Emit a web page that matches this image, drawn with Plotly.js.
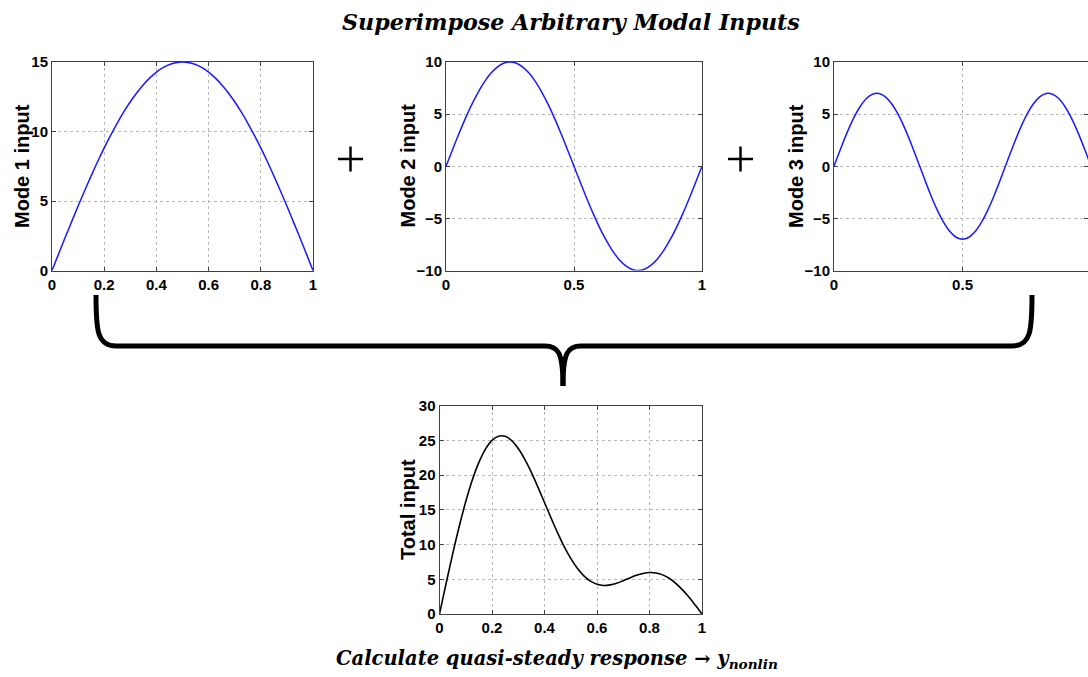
<!DOCTYPE html>
<html>
<head>
<meta charset="utf-8">
<script src="https://cdn.plot.ly/plotly-3.0.1.min.js"></script>
<style>html,body{margin:0;padding:0;background:#fff;}#chart{width:1088px;height:677px;}</style>
</head>
<body>
<div id="chart"></div>
<script>
// ---- data ----
const xPos = [0,0.025,0.05,0.075,0.1,0.125,0.15,0.175,0.2,0.225,0.25,0.275,0.3,0.325,0.35,0.375,0.4,0.425,0.45,0.475,0.5,
              0.525,0.55,0.575,0.6,0.625,0.65,0.675,0.7,0.725,0.75,0.775,0.8,0.825,0.85,0.875,0.9,0.925,0.95,0.975,1];
const mode1 = [0,1.18,2.35,3.50,4.64,5.74,6.81,7.84,8.82,9.74,10.61,11.41,12.14,12.79,13.37,13.86,14.27,14.59,14.82,14.95,15,
               14.95,14.82,14.59,14.27,13.86,13.37,12.79,12.14,11.41,10.61,9.74,8.82,7.84,6.81,5.74,4.64,3.50,2.35,1.18,0];
const mode2 = [0,1.56,3.09,4.54,5.88,7.07,8.09,8.91,9.51,9.88,10,9.88,9.51,8.91,8.09,7.07,5.88,4.54,3.09,1.56,0,
               -1.56,-3.09,-4.54,-5.88,-7.07,-8.09,-8.91,-9.51,-9.88,-10,-9.88,-9.51,-8.91,-8.09,-7.07,-5.88,-4.54,-3.09,-1.56,0];
const mode3 = [0,1.63,3.18,4.55,5.66,6.47,6.91,6.98,6.66,5.97,4.95,3.66,2.16,0.55,-1.09,-2.68,-4.11,-5.32,-6.24,-6.81,-7,
               -6.81,-6.24,-5.32,-4.11,-2.68,-1.09,0.55,2.16,3.66,4.95,5.97,6.66,6.98,6.91,6.47,5.66,4.55,3.18,1.63,0];
const total = [0,4.37,8.62,12.59,16.18,19.28,21.81,23.73,24.99,25.59,25.56,24.95,23.81,22.25,20.37,18.25,16.04,13.81,11.67,9.70,8,
               6.58,5.49,4.73,4.28,4.11,4.19,4.43,4.79,5.19,5.56,5.83,5.97,5.91,5.63,5.14,4.42,3.51,2.44,1.25,0];

const xTicksFine = [0,0.2,0.4,0.6,0.8,1];
const xTickTextFine = ["0","0.2","0.4","0.6","0.8","1"];
const xTicksCoarse = [0,0.5,1];
const xTickTextCoarse = ["0","0.5","1"];
const yTicks1 = [0,5,10,15];
const yTicksMode = [-10,-5,0,5,10];
const yTicksTotal = [0,5,10,15,20,25,30];

const yTitles = ["Mode 1 input","Mode 2 input","Mode 3 input","Total input"];
const mainTitle = "Superimpose Arbitrary Modal Inputs";
const bottomText = "Calculate quasi-steady response → y<sub>nonlin</sub>";

// ---- layout helpers ----
const W = 1088, H = 677;
const px = x => x / W;
const py = y => 1 - y / H;

const tickFont = {family: "Liberation Sans, Arial, sans-serif", size: 15, color: "#000", weight: "bold"};
const titleFont = {family: "Liberation Sans, Arial, sans-serif", size: 20, color: "#000", weight: "bold"};

function xAx(domain, range, vals, text, anchor) {
  return {
    domain: domain, range: range, tickvals: vals, ticktext: text, anchor: anchor,
    showgrid: true, gridcolor: "#b8b8b8", griddash: "dot", gridwidth: 1,
    zeroline: false, showline: true, mirror: "ticks", linecolor: "#404040", linewidth: 1,
    ticks: "inside", ticklen: 4, tickcolor: "#404040", ticklabelstandoff: 0,
    tickfont: tickFont, fixedrange: true
  };
}
function yAx(domain, range, vals, anchor) {
  return {
    domain: domain, range: range, tickvals: vals, anchor: anchor,
    showgrid: true, gridcolor: "#b8b8b8", griddash: "dot", gridwidth: 1,
    zeroline: false, showline: true, mirror: "ticks", linecolor: "#404040", linewidth: 1,
    ticks: "inside", ticklen: 4, tickcolor: "#404040",
    tickfont: tickFont, fixedrange: true
  };
}

const blue = "#1a1aff";
const traces = [
  {x: xPos, y: mode1, xaxis: "x", yaxis: "y", mode: "lines", line: {color: blue, width: 1.5, shape: "spline"}, hoverinfo: "skip"},
  {x: xPos, y: mode2, xaxis: "x2", yaxis: "y2", mode: "lines", line: {color: blue, width: 1.5, shape: "spline"}, hoverinfo: "skip"},
  {x: xPos, y: mode3, xaxis: "x3", yaxis: "y3", mode: "lines", line: {color: blue, width: 1.5, shape: "spline"}, hoverinfo: "skip"},
  {x: xPos, y: total, xaxis: "x4", yaxis: "y4", mode: "lines", line: {color: "#000", width: 1.6, shape: "spline"}, hoverinfo: "skip"}
];

const topDom = [py(270.5), py(62)];
const botDom = [py(614), py(405.5)];

function pathFrom(cmds) {
  return cmds.map(c => {
    const out = [c[0]];
    for (let i = 1; i < c.length; i += 2) out.push(px(c[i]).toFixed(5) + "," + py(c[i+1]).toFixed(5));
    return out.join(" ");
  }).join(" ");
}

const braceLeft = pathFrom([
  ["M", 96, 295], ["C", 96, 330, 97, 346, 116, 346], ["L", 545, 346],
  ["C", 558, 346, 563, 352, 563, 386]
]);
const braceRight = pathFrom([
  ["M", 563, 386], ["C", 563, 352, 568, 346, 581, 346], ["L", 1012, 346],
  ["C", 1031, 346, 1032, 330, 1032, 295]
]);

const shapes = [
  {type: "path", xref: "paper", yref: "paper", path: braceLeft, line: {color: "#000", width: 5}},
  {type: "path", xref: "paper", yref: "paper", path: braceRight, line: {color: "#000", width: 5}},
  {type: "line", xref: "paper", yref: "paper", x0: px(338), x1: px(363), y0: py(159), y1: py(159), line: {color: "#000", width: 2.5}},
  {type: "line", xref: "paper", yref: "paper", x0: px(350.5), x1: px(350.5), y0: py(146.5), y1: py(171.5), line: {color: "#000", width: 2.5}},
  {type: "line", xref: "paper", yref: "paper", x0: px(728), x1: px(753), y0: py(159), y1: py(159), line: {color: "#000", width: 2.5}},
  {type: "line", xref: "paper", yref: "paper", x0: px(740.5), x1: px(740.5), y0: py(146.5), y1: py(171.5), line: {color: "#000", width: 2.5}}
];

const titleSerif = {family: "DejaVu Serif, serif", size: 22.2, color: "#000", weight: "bold", style: "italic"};
const bottomSerif = {family: "DejaVu Serif, serif", size: 19.5, color: "#000", weight: "bold", style: "italic"};

// axis titles placed as rotated annotations (x centre, y centre in pixels)
const yTitlePos = [[22, 166], [407.5, 166], [796, 166], [408, 510]];

const annotations = [
  {xref: "paper", yref: "paper", x: px(571), y: py(22), text: mainTitle, showarrow: false, font: titleSerif, xanchor: "center", yanchor: "middle"},
  {xref: "paper", yref: "paper", x: px(557), y: py(659), text: bottomText, showarrow: false, font: bottomSerif, xanchor: "center", yanchor: "middle"}
].concat(yTitles.map((t, i) => ({
  xref: "paper", yref: "paper", x: px(yTitlePos[i][0]), y: py(yTitlePos[i][1]),
  text: t, textangle: -90, showarrow: false, font: titleFont, xanchor: "center", yanchor: "middle"
})));

const layout = {
  width: W, height: H,
  margin: {l: 0, r: 0, t: 0, b: 0},
  paper_bgcolor: "#fff", plot_bgcolor: "#fff",
  showlegend: false,
  xaxis: xAx([px(52), px(313)], [0, 1], xTicksFine, xTickTextFine, "y"),
  yaxis: yAx(topDom, [0, 15], yTicks1, "x"),
  xaxis2: xAx([px(446), px(702)], [0, 1], xTicksCoarse, xTickTextCoarse, "y2"),
  yaxis2: yAx(topDom, [-10, 10], yTicksMode, "x2"),
  xaxis3: xAx([px(834), 1], [0, 0.988], xTicksCoarse, xTickTextCoarse, "y3"),
  yaxis3: yAx(topDom, [-10, 10], yTicksMode, "x3"),
  xaxis4: xAx([px(439.5), px(702)], [0, 1], xTicksFine, xTickTextFine, "y4"),
  yaxis4: yAx(botDom, [0, 30], yTicksTotal, "x4"),
  shapes: shapes,
  annotations: annotations
};

Plotly.newPlot("chart", traces, layout, {displayModeBar: false, staticPlot: true});
</script>
</body>
</html>
